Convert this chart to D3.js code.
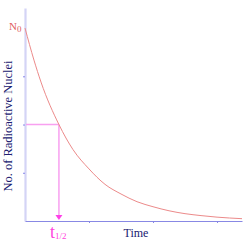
<!DOCTYPE html>
<html>
<head>
<meta charset="utf-8">
<script src="https://cdn.jsdelivr.net/npm/d3@7"></script>
<style>
  body { margin: 0; background: #fff; }
  svg { display: block; }
  text { font-family: "Liberation Serif", "DejaVu Serif", serif; }
</style>
</head>
<body>
<div id="chart"></div>
<script>
// values (time in axis units, N as fraction of N0)
var time   = [0, 0.14, 0.25, 0.53, 0.75, 1.0, 1.25, 1.5, 1.75, 2.0, 2.25, 2.5, 2.75, 3.0, 3.39];
var nuclei = [1.0, 0.834, 0.72, 0.5, 0.37, 0.27, 0.19, 0.14, 0.10, 0.074, 0.053, 0.038, 0.028, 0.02, 0.012];
var halfLife = 0.53;
var xTicks = [1, 2, 3];
var yTicks = [0.25, 0.5, 0.75];

var data = [];
for (var i = 0; i < time.length; i++) {
  data.push({t: time[i], n: nuclei[i]});
}

var width = 250, height = 246;
var svg = d3.select("#chart").append("svg")
    .attr("width", width)
    .attr("height", height);

var x = d3.scaleLinear().domain([0, 3.39]).range([25, 242]);
var y = d3.scaleLinear().domain([0, 1.104]).range([221, 8]);

// y axis (light lavender, thick)
var gy = svg.append("g")
    .attr("transform", "translate(25,0)")
    .call(d3.axisLeft(y).tickValues(yTicks).tickSize(2).tickSizeOuter(0).tickFormat(""));
gy.select(".domain").attr("stroke", "#d4d4f6").attr("stroke-width", 2.2);
gy.selectAll(".tick line").attr("stroke", "#8888e8");

// x axis
var gx = svg.append("g")
    .attr("transform", "translate(0,221)")
    .call(d3.axisBottom(x).tickValues(xTicks).tickSize(2).tickSizeOuter(0).tickFormat(""));
gx.select(".domain").attr("stroke", "#8888e4").attr("stroke-width", 1.1);
gx.selectAll(".tick line").attr("stroke", "#8888e4");

// half-life guide lines
svg.append("line")
    .attr("x1", x(0) + 1).attr("x2", x(halfLife))
    .attr("y1", y(0.5)).attr("y2", y(0.5))
    .attr("stroke", "#f8a0f0").attr("stroke-width", 1.5);
svg.append("line")
    .attr("x1", x(halfLife)).attr("x2", x(halfLife))
    .attr("y1", y(0.5)).attr("y2", y(0) - 4)
    .attr("stroke", "#f8a0f0").attr("stroke-width", 1.5);
svg.append("path")
    .attr("d", "M" + (x(halfLife) - 3.5) + "," + (y(0) - 6) +
               "L" + (x(halfLife) + 3.5) + "," + (y(0) - 6) +
               "L" + x(halfLife) + "," + (y(0) - 1) + "Z")
    .attr("fill", "#ff40e8");

// decay curve
var line = d3.line()
    .x(function(d) { return x(d.t); })
    .y(function(d) { return y(d.n); })
    .curve(d3.curveMonotoneX);
svg.append("path")
    .datum(data)
    .attr("d", line)
    .attr("fill", "none")
    .attr("stroke", "#ec8a8a")
    .attr("stroke-width", 1);

// labels
var n0 = svg.append("text")
    .attr("x", 9).attr("y", 30)
    .attr("fill", "#e06060")
    .attr("font-size", 11)
    .text("N");
n0.append("tspan").attr("dy", 2).attr("font-size", 9).text("0");

var th = svg.append("text")
    .attr("x", 50).attr("y", 238)
    .attr("fill", "#ff44dd")
    .attr("font-size", 18)
    .text("t");
th.append("tspan").attr("dy", 1).attr("font-size", 9).text("1/2");

svg.append("text")
    .attr("x", 136).attr("y", 237)
    .attr("text-anchor", "middle")
    .attr("fill", "#202070")
    .attr("font-size", 12)
    .text("Time");

svg.append("text")
    .attr("transform", "translate(12,126) rotate(-90)")
    .attr("text-anchor", "middle")
    .attr("fill", "#202070")
    .attr("font-size", 12.5)
    .text("No. of Radioactive Nuclei");
</script>
</body>
</html>
